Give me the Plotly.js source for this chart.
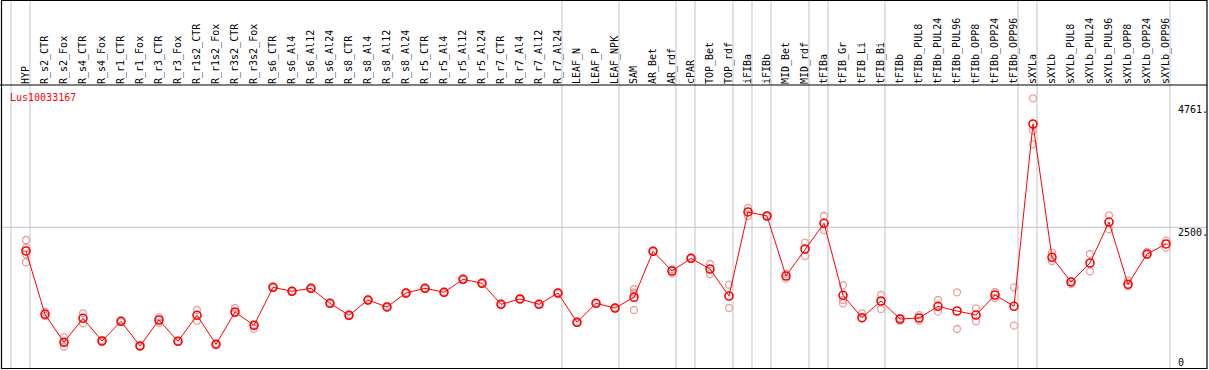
<!DOCTYPE html>
<html>
<head>
<meta charset="utf-8">
<script src="https://cdn.plot.ly/plotly-3.0.1.min.js"></script>
<style>html,body{margin:0;padding:0;background:#fff;}#chart{width:1209px;height:370px;}</style>
</head>
<body>
<div id="chart"></div>
<script>
// ---- data ----
var categories = ["HYP","R_s2_CTR","R_s2_Fox","R_s4_CTR","R_s4_Fox","R_r1_CTR","R_r1_Fox","R_r3_CTR","R_r3_Fox","R_r1s2_CTR","R_r1s2_Fox","R_r3s2_CTR","R_r3s2_Fox","R_s6_CTR","R_s6_Al4","R_s6_Al12","R_s6_Al24","R_s8_CTR","R_s8_Al4","R_s8_Al12","R_s8_Al24","R_r5_CTR","R_r5_Al4","R_r5_Al12","R_r5_Al24","R_r7_CTR","R_r7_Al4","R_r7_Al12","R_r7_Al24","LEAF_N","LEAF_P","LEAF_NPK","SAM","AR_Bet","AR_rdf","cPAR","TOP_Bet","TOP_rdf","iFIBa","iFIBb","MID_Bet","MID_rdf","tFIBa","tFIB_Gr","tFIB_Li","tFIB_Bi","tFIBb","tFIBb_PUL8","tFIBb_PUL24","tFIBb_PUL96","tFIBb_OPP8","tFIBb_OPP24","tFIBb_OPP96","sXYLa","sXYLb","sXYLb_PUL8","sXYLb_PUL24","sXYLb_PUL96","sXYLb_OPP8","sXYLb_OPP24","sXYLb_OPP96"];

var meanValues = [2047,836,300,759,325,702,230,727,319,817,262,880,625,1352,1276,1333,1046,817,1109,976,1243,1333,1257,1505,1429,1027,1129,1027,1243,683,1046,956,1161,2041,1664,1907,1702,1186,2793,2716,1568,2085,2577,1199,771,1090,746,765,989,899,822,1205,989,4476,1926,1454,1817,2601,1410,1989,2181];

var replicateValues = [
 [2257,2110,1984,1831],[880,803],[396,216,300],[855,664],[340,310],[715,690],[240,220],[778,675],[330,308],[918,713],
 [275,250],[956,855],[560,640],[1365,1340],[1285,1265],[1345,1320],[1058,1035],[828,805],[1120,1098],[988,964],
 [1255,1230],[1345,1320],[1268,1245],[1517,1493],[1440,1418],[1038,1016],[1140,1118],[1038,1016],[1255,1230],[694,672],
 [1058,1035],[968,944],[1320,1257,1224,918],[2053,2030],[1697,1620],[1918,1896],[1798,1607],[1402,956],[2869,2716],[2728,2704],
 [1607,1517],[2205,1951],[2716,2448],[1391,1046,1109],[855,760],[1205,937],[760,713],[822,713],[1109,886],[1257,555],
 [951,702],[1262,1148],[1352,618],[4967,4348,4088],[2014,1855],[1466,1415],[1989,1658],[2730,2462],[1479,1377],[2028,1975],
 [2244,2110]
];

var geneName = "Lus10033167";
var yTickValues = [4761, 2500, 0];
var yTickLabels = ["4761.", "2500.", "0"];
// index of first category of each sample group (last entry = end)
var groupStarts = [0,1,29,32,35,36,38,39,40,42,43,46,53,54,61];

// ---- build ----
var repX = [], repY = [];
replicateValues.forEach(function(arr, i){
  arr.forEach(function(v){ repX.push(categories[i]); repY.push(v); });
});

var W = 1209, H = 370, TOP = 85;
var plotH = H - TOP;
function py(p){ return (H - p) / plotH; }   // image pixel row -> paper y
var mono = "DejaVu Sans Mono, monospace";

var traces = [
  {type:'scatter', mode:'markers', x:repX, y:repY, hoverinfo:'skip',
   marker:{symbol:'circle-open', size:7, color:'rgba(236,140,140,0.85)', line:{width:1.3, color:'rgba(236,140,140,0.85)'}}},
  {type:'scatter', mode:'lines+markers', x:categories, y:meanValues,
   line:{color:'#ff0000', width:1},
   marker:{symbol:'circle-open', size:8, color:'#ff0000', line:{width:1.6, color:'#ff0000'}}}
];

var shapes = [];
groupStarts.forEach(function(g){
  shapes.push({type:'line', xref:'x', yref:'paper', x0:g-0.79, x1:g-0.79, y0:py(368.5), y1:py(0),
    line:{color:'#c4c4c4', width:1}, layer:'below'});
});
shapes.push({type:'line', xref:'paper', yref:'y', x0:0, x1:1207/W, y0:yTickValues[1], y1:yTickValues[1],
  line:{color:'#c4c4c4', width:1}, layer:'below'});
shapes.push({type:'line', xref:'paper', yref:'paper', x0:0, x1:1207/W, y0:1, y1:1,
  line:{color:'#000', width:1.2}, layer:'above'});
shapes.push({type:'rect', xref:'paper', yref:'paper', x0:1.5/W, x1:1207/W, y0:py(368.5), y1:py(0.5),
  line:{color:'#000', width:1.2}, fillcolor:'rgba(0,0,0,0)', layer:'above'});

var annotations = [];
var yShift = [0, -5, -4];
yTickValues.forEach(function(v, k){
  annotations.push({xref:'paper', yref:'y', x:1176/W, y:v, text:yTickLabels[k], showarrow:false,
    xanchor:'left', yanchor:'middle', yshift:yShift[k], font:{family:mono, size:10, color:'#000'}});
});
annotations.push({xref:'paper', yref:'paper', x:8/W, y:py(97), text:geneName, showarrow:false,
  xanchor:'left', yanchor:'middle', font:{family:mono, size:10, color:'#ff0000'}});

var layout = {
  width:W, height:H,
  margin:{l:0, r:0, t:TOP, b:0, pad:0},
  paper_bgcolor:'#fff', plot_bgcolor:'#fff',
  showlegend:false,
  xaxis:{type:'category', categoryorder:'array', categoryarray:categories,
    range:[-26/19, (W-26)/19], side:'top', tickangle:-90, ticks:'', showgrid:false,
    zeroline:false, showline:false, automargin:false, fixedrange:true,
    tickfont:{family:mono, size:10, color:'#000'}},
  yaxis:{range:[(358-H)/0.05228, (358-TOP)/0.05228], showticklabels:false, showgrid:false,
    zeroline:false, showline:false, ticks:'', automargin:false, fixedrange:true},
  shapes:shapes,
  annotations:annotations
};

Plotly.newPlot('chart', traces, layout, {displayModeBar:false, staticPlot:true});
</script>
</body>
</html>
